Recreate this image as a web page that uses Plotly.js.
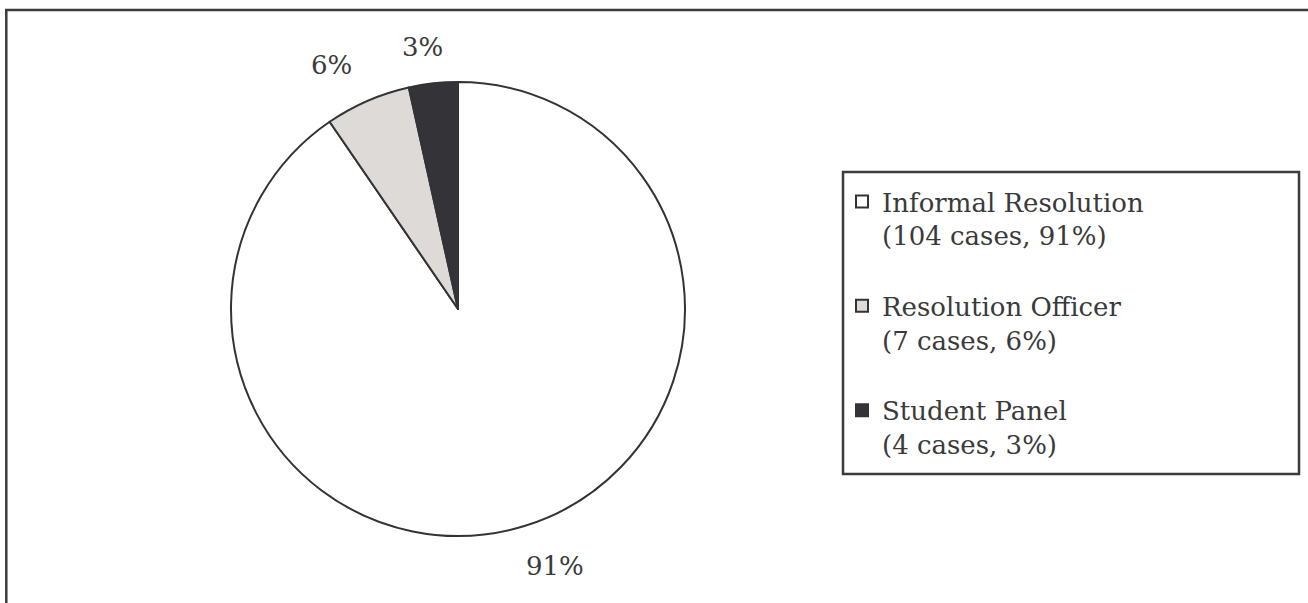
<!DOCTYPE html>
<html>
<head>
<meta charset="utf-8">
<script src="https://cdn.plot.ly/plotly-3.0.1.min.js"></script>
<style>html,body{margin:0;padding:0;background:#fff;}#chart{width:1308px;height:603px;}</style>
</head>
<body>
<div id="chart"></div>
<script>
// ---- data ----
const categories = ["Informal Resolution", "Resolution Officer", "Student Panel"];
const caseCounts = [104, 7, 4];
const percentLabels = ["91%", "6%", "3%"];
const sliceColors = ["#ffffff", "#dedad7", "#343338"];

// ---- derived texts ----
const NB = "\u00A0";
const legendNames = categories.map((c, i) => {
  let s = c + "<br>(" + caseCounts[i] + " cases, " + percentLabels[i] + ")";
  if (i < categories.length - 1) s += "<br>" + NB;
  return s;
});

const W = 1308, H = 603;
const cx = 458, cy = 309, R = 227;
const ink = "#333336";
const textColor = "#3a3a3a";

const trace = {
  type: "pie",
  labels: legendNames,
  values: caseCounts,
  textinfo: "none",
  sort: false,
  direction: "clockwise",
  rotation: 0,
  marker: { colors: sliceColors, line: { color: ink, width: 2 } },
  domain: { x: [(cx - R) / W, (cx + R) / W], y: [(H - cy - R) / H, (H - cy + R) / H] },
  automargin: false,
  hoverinfo: "label+value+percent"
};

// percentage labels placed outside each slice, at the slice's mid angle
const total = caseCounts.reduce((a, b) => a + b, 0);
let cum = 0;
const pctAnnotations = caseCounts.map((v, i) => {
  const mid = (cum + v / 2) / total * 2 * Math.PI; // clockwise from 12 o'clock
  cum += v;
  const sx = Math.sin(mid), cy_ = Math.cos(mid);
  const rimX = R * sx, rimY = -R * cy_;
  const offX = Math.max(-36, Math.min(36, sx * 100));
  const offY = cy_ >= 0 ? -38 : 38;
  return {
    xref: "paper", yref: "paper",
    x: (cx + rimX + offX) / W,
    y: 1 - (cy + rimY + offY + 2) / H,
    xanchor: "center", yanchor: "middle",
    text: percentLabels[i], showarrow: false,
    font: { family: "DejaVu Serif", size: 26, color: textColor }
  };
});

const layout = {
  width: W, height: H,
  margin: { l: 0, r: 0, t: 0, b: 0 },
  paper_bgcolor: "#ffffff",
  font: { family: "DejaVu Serif", size: 26, color: textColor },
  showlegend: true,
  legend: {
    x: 842 / W, xanchor: "left",
    y: 1 - 178 / H, yanchor: "top",
    bgcolor: "rgba(0,0,0,0)",
    borderwidth: 0,
    valign: "top",
    font: { family: "DejaVu Serif", size: 26, color: textColor },
    traceorder: "normal"
  },
  annotations: pctAnnotations,
  shapes: [
    // outer frame (left and top edges)
    { type: "line", xref: "paper", yref: "paper", x0: 6.3 / W, x1: 6.3 / W, y0: 1 - 9 / H, y1: 0, line: { color: "#3b3b3e", width: 2.5 } },
    { type: "line", xref: "paper", yref: "paper", x0: 5 / W, x1: 1, y0: 1 - 10 / H, y1: 1 - 10 / H, line: { color: "#3b3b3e", width: 2.5 } },
    // legend box
    { type: "rect", xref: "paper", yref: "paper", x0: 843 / W, x1: 1299 / W, y0: 1 - 172 / H, y1: 1 - 474 / H, line: { color: "#3b3b3e", width: 2.5 }, fillcolor: "rgba(0,0,0,0)" }
  ]
};

Plotly.newPlot("chart", [trace], layout, { displayModeBar: false, staticPlot: true });
</script>
</body>
</html>
